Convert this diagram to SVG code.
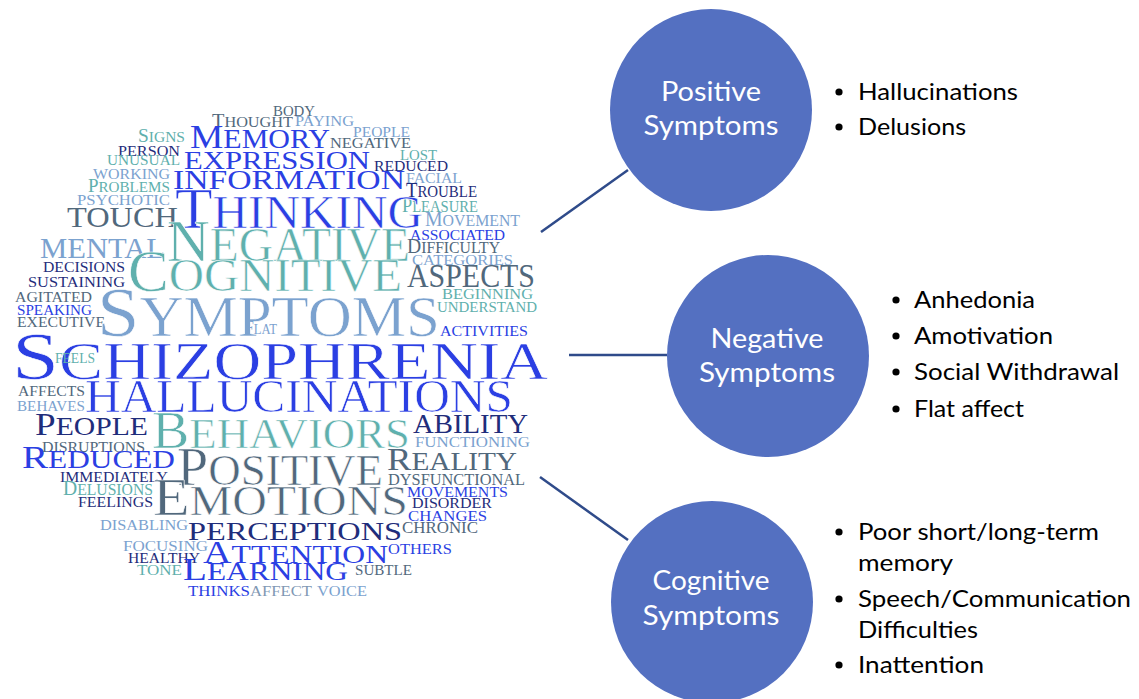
<svg xmlns="http://www.w3.org/2000/svg" width="1139" height="699" viewBox="0 0 1139 699">
  <style>
    .w{font-family:"Liberation Serif","DejaVu Serif",serif}
    .b{fill:#2b3fe3}
    .n{fill:#1f2d7b}
    .s{fill:#51687c}
    .t{fill:#5fb0ad}
    .l{fill:#7ba2cf}
    .a{fill:#7f98b4}
    .f{font-size:125%}
    /* large words get a faint white edge so their stems read a little lighter */
    .thin{stroke:#ffffff;stroke-width:0.6;stroke-linejoin:round}
    .hub{fill:#5470c1}
    .hubtxt{font-family:Lato,"Open Sans","Liberation Sans",sans-serif;font-size:26px;fill:#ffffff;text-anchor:middle}
    .item{font-family:Lato,"Open Sans","Liberation Sans",sans-serif;font-size:24px;fill:#000000}
    .dot{fill:#000000}
    .link{stroke:#2f4b8a;stroke-width:2.5;fill:none}
  </style>

  <!-- word cloud -->
  <g id="word-cloud" class="w">
    <text class="s" x="273" y="116" font-size="15" textLength="42" lengthAdjust="spacingAndGlyphs">BODY</text>
    <text class="s" x="212" y="127" font-size="15" textLength="81" lengthAdjust="spacingAndGlyphs"><tspan class="f">T</tspan>HOUGHT</text>
    <text class="l" x="295" y="126" font-size="15" textLength="59" lengthAdjust="spacingAndGlyphs">PAYING</text>
    <text class="l" x="353" y="137" font-size="15" textLength="57" lengthAdjust="spacingAndGlyphs">PEOPLE</text>
    <text class="t" x="138" y="142" font-size="15" textLength="47" lengthAdjust="spacingAndGlyphs"><tspan class="f">S</tspan>IGNS</text>
    <text class="b" x="190" y="148" font-size="27" textLength="140" lengthAdjust="spacingAndGlyphs"><tspan class="f">M</tspan>EMORY</text>
    <text class="s" x="330" y="148" font-size="15" textLength="81" lengthAdjust="spacingAndGlyphs">NEGATIVE</text>
    <text class="n" x="118" y="156" font-size="15" textLength="62" lengthAdjust="spacingAndGlyphs">PERSON</text>
    <text class="t" x="400" y="160" font-size="15" textLength="37" lengthAdjust="spacingAndGlyphs">LOST</text>
    <text class="t" x="107" y="165" font-size="15" textLength="73" lengthAdjust="spacingAndGlyphs">UNUSUAL</text>
    <text class="b" x="184" y="169" font-size="26" textLength="186" lengthAdjust="spacingAndGlyphs">EXPRESSION</text>
    <text class="n" x="374" y="171" font-size="15" textLength="74" lengthAdjust="spacingAndGlyphs">REDUCED</text>
    <text class="l" x="93" y="179" font-size="15" textLength="77" lengthAdjust="spacingAndGlyphs">WORKING</text>
    <text class="l" x="406" y="183" font-size="15" textLength="56" lengthAdjust="spacingAndGlyphs">FACIAL</text>
    <text class="b" x="173" y="189" font-size="27" textLength="232" lengthAdjust="spacingAndGlyphs">INFORMATION</text>
    <text class="t" x="88" y="192" font-size="15" textLength="82" lengthAdjust="spacingAndGlyphs"><tspan class="f">P</tspan>ROBLEMS</text>
    <text class="n" x="406" y="197" font-size="16" textLength="71" lengthAdjust="spacingAndGlyphs"><tspan class="f">T</tspan>ROUBLE</text>
    <text class="l" x="77" y="205" font-size="15" textLength="93" lengthAdjust="spacingAndGlyphs">PSYCHOTIC</text>
    <text class="t" x="402" y="212" font-size="16" textLength="76" lengthAdjust="spacingAndGlyphs"><tspan class="f">P</tspan>LEASURE</text>
    <text class="b thin" x="175" y="228" font-size="46" textLength="248" lengthAdjust="spacingAndGlyphs"><tspan class="f">T</tspan>HINKING</text>
    <text class="s" x="67" y="227" font-size="30" textLength="111" lengthAdjust="spacingAndGlyphs">TOUCH</text>
    <text class="l" x="425" y="226" font-size="16" textLength="95" lengthAdjust="spacingAndGlyphs"><tspan class="f">M</tspan>OVEMENT</text>
    <text class="b" x="410" y="240" font-size="15" textLength="95" lengthAdjust="spacingAndGlyphs">ASSOCIATED</text>
    <text class="s" x="407" y="253" font-size="16" textLength="93" lengthAdjust="spacingAndGlyphs"><tspan class="f">D</tspan>IFFICULTY</text>
    <text class="l" x="40" y="258" font-size="30" textLength="125" lengthAdjust="spacingAndGlyphs">MENTAL</text>
    <text class="t thin" x="167" y="261" font-size="48" textLength="243" lengthAdjust="spacingAndGlyphs"><tspan class="f">N</tspan>EGATIVE</text>
    <text class="l" x="412" y="265" font-size="15" textLength="101" lengthAdjust="spacingAndGlyphs">CATEGORIES</text>
    <text class="n" x="43" y="272" font-size="14" textLength="82" lengthAdjust="spacingAndGlyphs">DECISIONS</text>
    <text class="s" x="407" y="287" font-size="33" textLength="128" lengthAdjust="spacingAndGlyphs">ASPECTS</text>
    <text class="t thin" x="128" y="291" font-size="47" textLength="274" lengthAdjust="spacingAndGlyphs"><tspan class="f">C</tspan>OGNITIVE</text>
    <text class="n" x="28" y="287" font-size="15" textLength="97" lengthAdjust="spacingAndGlyphs">SUSTAINING</text>
    <text class="t" x="442" y="299" font-size="15" textLength="91" lengthAdjust="spacingAndGlyphs">BEGINNING</text>
    <text class="s" x="15" y="302" font-size="14" textLength="77" lengthAdjust="spacingAndGlyphs">AGITATED</text>
    <text class="t" x="437" y="312" font-size="15" textLength="100" lengthAdjust="spacingAndGlyphs">UNDERSTAND</text>
    <text class="b" x="17" y="315" font-size="15" textLength="75" lengthAdjust="spacingAndGlyphs">SPEAKING</text>
    <text class="s" x="17" y="327" font-size="14" textLength="88" lengthAdjust="spacingAndGlyphs">EXECUTIVE</text>
    <text class="l thin" x="97" y="336" font-size="56" textLength="343" lengthAdjust="spacingAndGlyphs"><tspan class="f">S</tspan>YMPTOMS</text>
    <text class="l" x="245" y="334" font-size="15" textLength="32" lengthAdjust="spacingAndGlyphs"><tspan class="f">F</tspan>LAT</text>
    <text class="b" x="440" y="336" font-size="15" textLength="88" lengthAdjust="spacingAndGlyphs">ACTIVITIES</text>
    <text class="b thin" x="12" y="379" font-size="53" textLength="536" lengthAdjust="spacingAndGlyphs"><tspan font-size="128%">S</tspan>CHIZOPHRENIA</text>
    <text class="t" x="55" y="363" font-size="15" textLength="40" lengthAdjust="spacingAndGlyphs">FEELS</text>
    <text class="s" x="18" y="396" font-size="15" textLength="67" lengthAdjust="spacingAndGlyphs">AFFECTS</text>
    <text class="b thin" x="85" y="412" font-size="47" textLength="428" lengthAdjust="spacingAndGlyphs">HALLUCINATIONS</text>
    <text class="l" x="17" y="411" font-size="15" textLength="68" lengthAdjust="spacingAndGlyphs">BEHAVES</text>
    <text class="n" x="35" y="435" font-size="25" textLength="113" lengthAdjust="spacingAndGlyphs"><tspan class="f">P</tspan>EOPLE</text>
    <text class="t thin" x="152" y="448" font-size="42" textLength="258" lengthAdjust="spacingAndGlyphs"><tspan class="f">B</tspan>EHAVIORS</text>
    <text class="n" x="413" y="433" font-size="27" textLength="115" lengthAdjust="spacingAndGlyphs">ABILITY</text>
    <text class="s" x="42" y="452" font-size="15" textLength="103" lengthAdjust="spacingAndGlyphs">DISRUPTIONS</text>
    <text class="l" x="415" y="447" font-size="15" textLength="115" lengthAdjust="spacingAndGlyphs">FUNCTIONING</text>
    <text class="b" x="22" y="468" font-size="25" textLength="153" lengthAdjust="spacingAndGlyphs"><tspan class="f">R</tspan>EDUCED</text>
    <text class="s" x="387" y="470" font-size="25" textLength="130" lengthAdjust="spacingAndGlyphs"><tspan class="f">R</tspan>EALITY</text>
    <text class="s thin" x="177" y="485" font-size="44" textLength="206" lengthAdjust="spacingAndGlyphs"><tspan class="f">P</tspan>OSITIVE</text>
    <text class="n" x="60" y="482" font-size="15" textLength="108" lengthAdjust="spacingAndGlyphs">IMMEDIATELY</text>
    <text class="s" x="388" y="485" font-size="16" textLength="137" lengthAdjust="spacingAndGlyphs">DYSFUNCTIONAL</text>
    <text class="t" x="63" y="495" font-size="16" textLength="90" lengthAdjust="spacingAndGlyphs"><tspan class="f">D</tspan>ELUSIONS</text>
    <text class="b" x="407" y="497" font-size="15" textLength="101" lengthAdjust="spacingAndGlyphs">MOVEMENTS</text>
    <text class="n" x="78" y="507" font-size="15" textLength="75" lengthAdjust="spacingAndGlyphs">FEELINGS</text>
    <text class="s thin" x="153" y="515" font-size="42" textLength="255" lengthAdjust="spacingAndGlyphs"><tspan class="f">E</tspan>MOTIONS</text>
    <text class="n" x="412" y="508" font-size="15" textLength="80" lengthAdjust="spacingAndGlyphs">DISORDER</text>
    <text class="b" x="408" y="521" font-size="15" textLength="79" lengthAdjust="spacingAndGlyphs">CHANGES</text>
    <text class="l" x="100" y="530" font-size="15" textLength="88" lengthAdjust="spacingAndGlyphs">DISABLING</text>
    <text class="s" x="402" y="533" font-size="16" textLength="76" lengthAdjust="spacingAndGlyphs">CHRONIC</text>
    <text class="n" x="188" y="540" font-size="26" textLength="214" lengthAdjust="spacingAndGlyphs">PERCEPTIONS</text>
    <text class="l" x="123" y="551" font-size="15" textLength="85" lengthAdjust="spacingAndGlyphs">FOCUSING</text>
    <text class="b" x="388" y="554" font-size="15" textLength="64" lengthAdjust="spacingAndGlyphs">OTHERS</text>
    <text class="b" x="203" y="563" font-size="26" textLength="185" lengthAdjust="spacingAndGlyphs"><tspan class="f">A</tspan>TTENTION</text>
    <text class="n" x="128" y="563" font-size="15" textLength="72" lengthAdjust="spacingAndGlyphs">HEALTHY</text>
    <text class="t" x="137" y="575" font-size="15" textLength="45" lengthAdjust="spacingAndGlyphs">TONE</text>
    <text class="s" x="355" y="575" font-size="15" textLength="57" lengthAdjust="spacingAndGlyphs">SUBTLE</text>
    <text class="b" x="183" y="580" font-size="25" textLength="165" lengthAdjust="spacingAndGlyphs"><tspan class="f">L</tspan>EARNING</text>
    <text class="b" x="188" y="596" font-size="15" textLength="62" lengthAdjust="spacingAndGlyphs">THINKS</text>
    <text class="a" x="250" y="596" font-size="15" textLength="62" lengthAdjust="spacingAndGlyphs">AFFECT</text>
    <text class="l" x="317" y="596" font-size="15" textLength="50" lengthAdjust="spacingAndGlyphs">VOICE</text>
  </g>

  <!-- connectors from the cloud to the three symptom groups -->
  <g id="connectors">
    <line class="link" x1="541" y1="232" x2="628" y2="170"/>
    <line class="link" x1="569" y1="355" x2="667" y2="355"/>
    <line class="link" x1="540" y1="477" x2="628" y2="540"/>
  </g>

  <g id="positive">
    <circle class="hub" cx="711" cy="110" r="101"/>
    <text class="hubtxt" x="711" y="101" textLength="100" lengthAdjust="spacingAndGlyphs">Positive</text>
    <text class="hubtxt" x="711" y="135" textLength="135" lengthAdjust="spacingAndGlyphs">Symptoms</text>
    <circle class="dot" cx="839" cy="92" r="3.6"/>
    <text class="item" x="858" y="100" textLength="160" lengthAdjust="spacingAndGlyphs">Hallucinations</text>
    <circle class="dot" cx="839" cy="127" r="3.6"/>
    <text class="item" x="858" y="135" textLength="108" lengthAdjust="spacingAndGlyphs">Delusions</text>
  </g>

  <g id="negative">
    <circle class="hub" cx="768" cy="356" r="101"/>
    <text class="hubtxt" x="767" y="348" textLength="113" lengthAdjust="spacingAndGlyphs">Negative</text>
    <text class="hubtxt" x="767" y="382" textLength="136" lengthAdjust="spacingAndGlyphs">Symptoms</text>
    <circle class="dot" cx="896" cy="300" r="3.6"/>
    <text class="item" x="914" y="308" textLength="121" lengthAdjust="spacingAndGlyphs">Anhedonia</text>
    <circle class="dot" cx="896" cy="336" r="3.6"/>
    <text class="item" x="914" y="344" textLength="139" lengthAdjust="spacingAndGlyphs">Amotivation</text>
    <circle class="dot" cx="896" cy="372" r="3.6"/>
    <text class="item" x="914" y="380" textLength="205" lengthAdjust="spacingAndGlyphs">Social Withdrawal</text>
    <circle class="dot" cx="896" cy="409" r="3.6"/>
    <text class="item" x="914" y="417" textLength="110" lengthAdjust="spacingAndGlyphs">Flat affect</text>
  </g>

  <g id="cognitive">
    <circle class="hub" cx="712" cy="602" r="101"/>
    <text class="hubtxt" x="711" y="590" textLength="117" lengthAdjust="spacingAndGlyphs">Cognitive</text>
    <text class="hubtxt" x="711" y="625" textLength="137" lengthAdjust="spacingAndGlyphs">Symptoms</text>
    <circle class="dot" cx="839" cy="532" r="3.6"/>
    <text class="item" x="858" y="540" textLength="241" lengthAdjust="spacingAndGlyphs">Poor short/long-term</text>
    <text class="item" x="858" y="571" textLength="95" lengthAdjust="spacingAndGlyphs">memory</text>
    <circle class="dot" cx="839" cy="599" r="3.6"/>
    <text class="item" x="858" y="607" textLength="273" lengthAdjust="spacingAndGlyphs">Speech/Communication</text>
    <text class="item" x="858" y="638" textLength="120" lengthAdjust="spacingAndGlyphs">Difficulties</text>
    <circle class="dot" cx="839" cy="665" r="3.6"/>
    <text class="item" x="858" y="673" textLength="126" lengthAdjust="spacingAndGlyphs">Inattention</text>
  </g>
</svg>
